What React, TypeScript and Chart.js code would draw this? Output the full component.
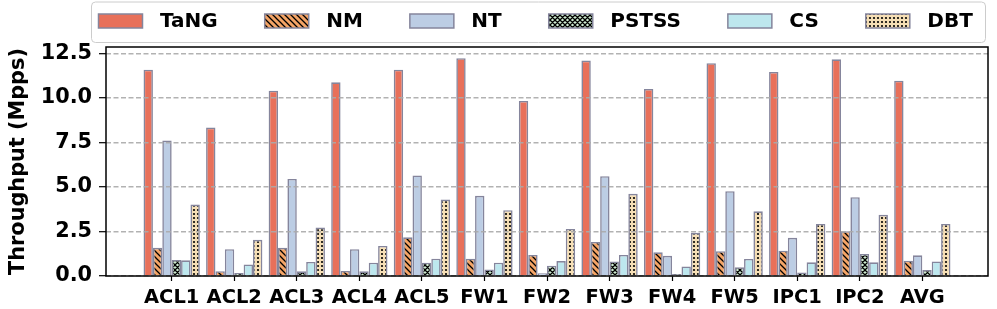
import React, { useEffect, useRef } from 'react';
import { Chart, registerables } from 'chart.js';

Chart.register(...registerables);

const categories = ['ACL1', 'ACL2', 'ACL3', 'ACL4', 'ACL5', 'FW1', 'FW2', 'FW3', 'FW4', 'FW5', 'IPC1', 'IPC2', 'AVG'];
const seriesNames = ['TaNG', 'NM', 'NT', 'PSTSS', 'CS', 'DBT'];
const tangValues = [11.58, 8.33, 10.4, 10.87, 11.58, 12.22, 9.82, 12.09, 10.5, 11.94, 11.45, 12.16, 10.96];
const nmValues = [1.58, 0.27, 1.58, 0.28, 2.17, 0.97, 1.18, 1.91, 1.33, 1.39, 1.42, 2.51, 0.86];
const ntValues = [7.6, 1.5, 5.45, 1.5, 5.64, 4.5, 0.15, 5.6, 1.13, 4.76, 2.14, 4.42, 1.16];
const pstssValues = [0.9, 0.17, 0.26, 0.26, 0.75, 0.37, 0.58, 0.82, 0.11, 0.49, 0.19, 1.24, 0.34];
const csValues = [0.88, 0.65, 0.79, 0.75, 0.97, 0.75, 0.84, 1.18, 0.54, 0.96, 0.77, 0.77, 0.82];
const dbtValues = [4.01, 2.03, 2.72, 1.69, 4.29, 3.69, 2.64, 4.61, 2.42, 3.63, 2.92, 3.43, 2.92];
const yTicks = [0, 2.5, 5, 7.5, 10, 12.5];

const seriesValues = [tangValues, nmValues, ntValues, pstssValues, csValues, dbtValues];
const seriesColors = ['#e8705a', '#f4a466', '#bccde4', '#cdebd0', '#bde7ee', '#f6dfb5'];
const seriesHatch = ['none', 'back', 'none', 'cross', 'none', 'dots'];
const EDGE = '#85859c';
const FONT = '"DejaVu Sans", sans-serif';
const FS_X = 19.44;
const FS_Y = 20.8;
const FS_LEG = 20;

function makeFill(bg: string, kind: string): string | CanvasPattern {
  if (kind === 'none') return bg;
  const s = kind === 'dots' ? 4 : kind === 'cross' ? 5 : 6;
  const c = document.createElement('canvas');
  c.width = s;
  c.height = s;
  const g = c.getContext('2d')!;
  g.fillStyle = bg;
  g.fillRect(0, 0, s, s);
  g.strokeStyle = '#000';
  g.fillStyle = '#000';
  g.lineWidth = 1.3;
  if (kind === 'back' || kind === 'cross') {
    g.beginPath();
    g.moveTo(-1, -1); g.lineTo(s + 1, s + 1);
    g.moveTo(-1, s - 1); g.lineTo(1, s + 1);
    g.moveTo(s - 1, -1); g.lineTo(s + 1, 1);
    if (kind === 'cross') {
      g.moveTo(-1, s + 1); g.lineTo(s + 1, -1);
      g.moveTo(-1, 1); g.lineTo(1, -1);
      g.moveTo(s - 1, s + 1); g.lineTo(s + 1, s - 1);
    }
    g.stroke();
  } else if (kind === 'dots') {
    g.beginPath();
    g.arc(2, 2, 1.1, 0, Math.PI * 2);
    g.fill();
  }
  const p = g.createPattern(c, 'repeat');
  return p || bg;
}

export default function App() {
  const ref = useRef<HTMLCanvasElement | null>(null);
  useEffect(() => {
    const canvas = ref.current!;
    const fills = seriesColors.map((c, i) => makeFill(c, seriesHatch[i]));

    const framePlugin = {
      id: 'frameLegend',
      afterDraw(chart: any) {
        const { ctx, chartArea } = chart;
        ctx.save();
        ctx.strokeStyle = '#000';
        ctx.lineWidth = 1.5;
        ctx.strokeRect(chartArea.left, chartArea.top, chartArea.right - chartArea.left, chartArea.bottom - chartArea.top);
        // legend box
        const lx = 91.5, ly = 2, lw = 894, lh = 40.5, r = 4;
        ctx.beginPath();
        ctx.moveTo(lx + r, ly);
        ctx.lineTo(lx + lw - r, ly);
        ctx.arcTo(lx + lw, ly, lx + lw, ly + r, r);
        ctx.lineTo(lx + lw, ly + lh - r);
        ctx.arcTo(lx + lw, ly + lh, lx + lw - r, ly + lh, r);
        ctx.lineTo(lx + r, ly + lh);
        ctx.arcTo(lx, ly + lh, lx, ly + lh - r, r);
        ctx.lineTo(lx, ly + r);
        ctx.arcTo(lx, ly, lx + r, ly, r);
        ctx.closePath();
        ctx.fillStyle = 'rgba(255,255,255,0.8)';
        ctx.fill();
        ctx.strokeStyle = '#cccccc';
        ctx.lineWidth = 1;
        ctx.stroke();
        ctx.font = `bold ${FS_LEG}px ${FONT}`;
        ctx.textBaseline = 'middle';
        ctx.textAlign = 'left';
        let x = 98.5;
        const cy = 21;
        seriesNames.forEach((name, i) => {
          ctx.fillStyle = fills[i] as any;
          ctx.fillRect(x, cy - 7, 44, 14);
          ctx.strokeStyle = EDGE;
          ctx.lineWidth = 1.5;
          ctx.strokeRect(x, cy - 7, 44, 14);
          ctx.fillStyle = '#000';
          const tx = x + 44 + 17.5;
          ctx.fillText(name, tx, cy + 1);
          x = tx + ctx.measureText(name).width + 47;
        });
        ctx.restore();
      },
    };

    const chart = new Chart(canvas, {
      type: 'bar',
      data: {
        datasets: seriesNames.map((name, si) => ({
          label: name,
          data: seriesValues[si].map((v, i) => ({ x: i, y: v })),
          backgroundColor: fills[si] as any,
          borderColor: EDGE,
          borderWidth: 1.6,
          barPercentage: 1,
          categoryPercentage: 0.9,
        })),
      },
      options: {
        responsive: false,
        animation: false,
        layout: { padding: { top: 47, right: 9, left: 0, bottom: 0 } },
        plugins: { legend: { display: false }, tooltip: { enabled: false } },
        scales: {
          x: {
            type: 'linear',
            offset: false,
            min: -1.05,
            max: 13.05,
            afterBuildTicks: (s: any) => {
              s.ticks = categories.map((_, i) => ({ value: i }));
            },
            afterFit: (s: any) => {
              s.height = 33;
              s.paddingLeft = 0;
              s.paddingRight = 0;
            },
            ticks: {
              autoSkip: false,
              maxRotation: 0,
              padding: 5,
              color: '#000',
              font: { family: FONT, size: FS_X, weight: 'bold' },
              callback: (v: any) => categories[v as number] ?? '',
            },
            grid: { offset: false, drawOnChartArea: false, tickLength: 5, tickColor: '#000', tickWidth: 1.2 },
            border: { display: false },
          },
          y: {
            min: 0,
            max: 12.85,
            afterBuildTicks: (s: any) => {
              s.ticks = yTicks.map((v) => ({ value: v }));
            },
            afterFit: (s: any) => {
              s.width = 106;
              s.paddingTop = 0;
              s.paddingBottom = 0;
            },
            ticks: {
              padding: 7,
              color: '#000',
              font: { family: FONT, size: FS_Y, weight: 'bold' },
              callback: (v: any) => Number(v).toFixed(1),
            },
            grid: {
              color: 'rgba(170,170,170,0.9)',
              lineWidth: 1.4,
              tickLength: 7,
              tickColor: '#000',
              tickWidth: 1.2,
              z: 1,
            },
            border: { display: false, dash: [5, 2.5] },
            title: {
              display: true,
              text: 'Throughput (Mpps)',
              color: '#000',
              font: { family: FONT, size: FS_Y, weight: 'bold' },
              padding: { top: 6, bottom: 0 },
            },
          },
        },
      },
      plugins: [framePlugin],
    } as any);
    return () => chart.destroy();
  }, []);
  return (
    <div style={{ position: 'fixed', left: 0, top: 0, width: 997, height: 309, background: '#fff' }}>
      <canvas ref={ref} width={997} height={309} style={{ width: 997, height: 309, display: 'block' }} />
    </div>
  );
}
